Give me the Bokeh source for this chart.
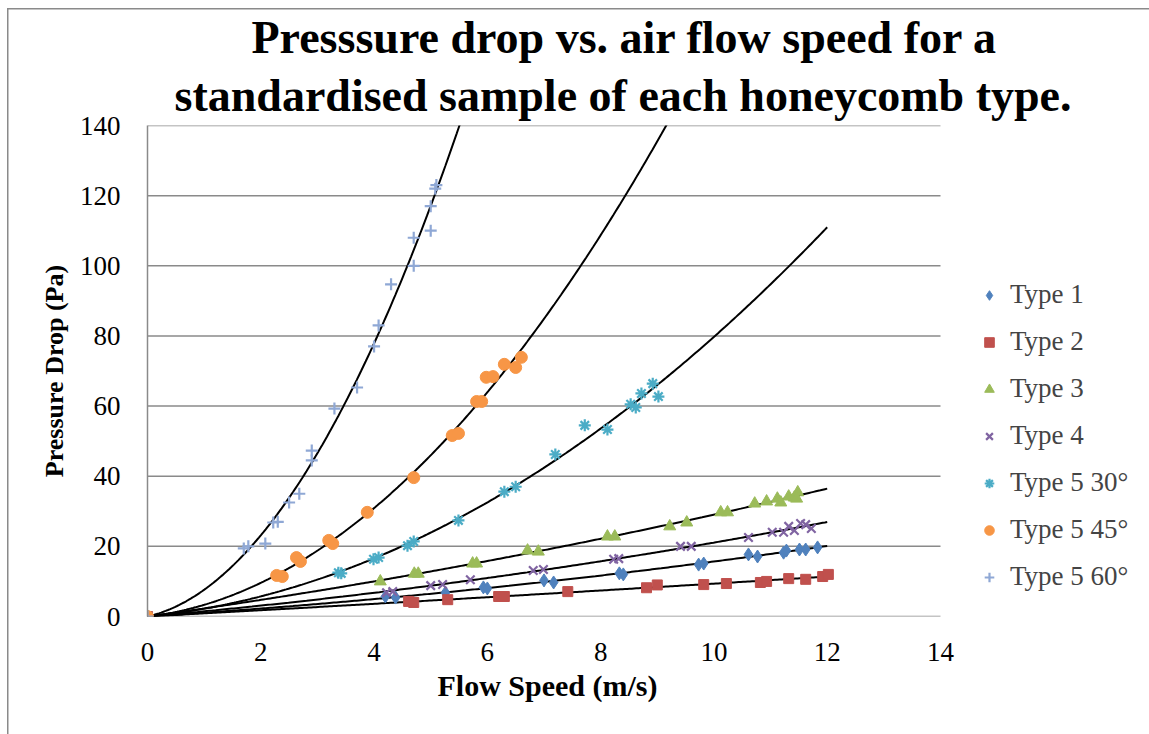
import numpy as np
from bokeh.plotting import figure
from bokeh.models import Range1d, Legend, LegendItem, FixedTicker, Title
from bokeh.embed import file_html
from bokeh.resources import INLINE

# ---------------- data ----------------
x_ticks = [0, 2, 4, 6, 8, 10, 12, 14]
y_ticks = [0, 20, 40, 60, 80, 100, 120, 140]

t1_x = [0, 4.20, 4.38, 5.26, 5.93, 6.00, 7.00, 7.17, 8.33, 8.40, 9.73, 9.82, 10.61, 10.77, 11.23, 11.28, 11.51, 11.62, 11.83]
t1_y = [0, 5.7, 5.4, 6.8, 8.3, 8.0, 10.3, 9.7, 12.3, 12.0, 14.8, 15.1, 17.7, 17.1, 18.2, 18.8, 19.1, 19.1, 19.7]

t2_x = [0, 4.61, 4.70, 5.30, 6.20, 6.30, 7.42, 8.81, 9.00, 9.82, 10.22, 10.82, 10.93, 11.32, 11.62, 11.92, 12.02]
t2_y = [0, 4.3, 4.0, 4.8, 5.7, 5.7, 7.1, 8.2, 9.0, 9.1, 9.4, 9.7, 10.0, 10.8, 10.6, 11.4, 12.0]

t3_x = [0, 4.11, 4.71, 4.78, 5.74, 5.81, 6.71, 6.90, 8.12, 8.25, 9.22, 9.52, 10.12, 10.24, 10.72, 10.93, 11.12, 11.18, 11.32, 11.42, 11.48, 11.46]
t3_y = [0, 10.0, 12.2, 12.2, 15.1, 15.1, 18.8, 18.5, 22.8, 22.8, 25.7, 26.8, 29.7, 29.7, 32.2, 32.8, 33.6, 32.5, 34.2, 33.9, 35.4, 33.6]

t4_x = [0, 4.22, 4.33, 5.00, 5.21, 5.70, 6.81, 6.99, 8.23, 8.32, 9.41, 9.60, 10.61, 11.03, 11.23, 11.32, 11.42, 11.53, 11.62, 11.72]
t4_y = [0, 6.8, 7.1, 8.8, 9.1, 10.5, 13.1, 13.4, 16.3, 16.5, 20.0, 20.0, 22.5, 24.0, 24.0, 25.7, 24.5, 26.5, 26.2, 25.1]

t530_x = [0, 3.37, 3.42, 3.99, 4.08, 4.59, 4.70, 5.49, 6.30, 6.50, 7.20, 7.72, 8.12, 8.53, 8.62, 8.72, 8.92, 9.02]
t530_y = [0, 12.5, 12.3, 16.3, 16.8, 20.2, 21.4, 27.4, 35.6, 37.0, 46.2, 54.5, 53.3, 60.5, 59.6, 63.6, 66.4, 62.7]

t545_x = [0, 2.28, 2.38, 2.63, 2.70, 3.20, 3.27, 3.88, 4.70, 5.38, 5.49, 5.81, 5.90, 5.98, 6.10, 6.30, 6.50, 6.60]
t545_y = [0, 11.7, 11.4, 16.8, 15.7, 21.7, 20.8, 29.7, 39.6, 51.6, 52.2, 61.3, 61.3, 68.2, 68.4, 71.9, 71.0, 73.9]

t560_x = [0, 1.70, 1.78, 2.08, 2.22, 2.30, 2.50, 2.68, 2.90, 2.90, 3.30, 3.70, 4.00, 4.08, 4.30, 4.70, 4.70, 5.00, 5.00, 5.08, 5.10]
t560_y = [0, 19.4, 20.0, 20.8, 26.8, 27.0, 32.5, 35.0, 47.3, 44.5, 59.3, 65.3, 77.0, 83.0, 94.7, 100.0, 108.0, 110.0, 117.0, 122.0, 123.0]

labels = ["Type 1", "Type 2", "Type 3", "Type 4", "Type 5 30°", "Type 5 45°", "Type 5 60°"]
colors = ["#4F81BD", "#C0504D", "#9BBB59", "#8064A2", "#4BACC6", "#F79646", "#8FA8D5"]
markers = ["diamond", "square", "triangle", "x", "asterisk", "circle", "cross"]
sizes = [13, 10, 12, 12, 12, 12, 12]
series = [(t1_x, t1_y), (t2_x, t2_y), (t3_x, t3_y), (t4_x, t4_y),
          (t530_x, t530_y), (t545_x, t545_y), (t560_x, t560_y)]
title_lines = ["Presssure drop vs. air flow speed for a",
               "standardised sample of each honeycomb type."]
x_title = "Flow Speed (m/s)"
y_title = "Pressure Drop (Pa)"
trend_end = 12.0

FONT = "Liberation Serif"
W, H = 1149, 734
BL, BR, BT, BB = 147, 0, 125, 118
AXIS_PX = 793                      # on-screen length of the 0..14 axis
FRAME_PX = W - BL - BR             # frame is wider; legend lives at its right
x_max = x_ticks[-1]
x_end = x_max * FRAME_PX / AXIS_PX
y_max = y_ticks[-1]

p = figure(width=W, height=H, x_range=Range1d(0, x_end), y_range=Range1d(0, y_max),
           output_backend="svg", toolbar_location=None, title=None,
           min_border_left=BL, min_border_right=BR, min_border_top=BT, min_border_bottom=BB)
p.border_fill_color = None
p.background_fill_color = "white"
p.outline_line_color = None
# outer chart-area border (top and left edges visible in the reference)
p.styles = {"box-shadow": "inset 7px 8px 0 0 white, inset 8.5px 9.5px 0 0 #8a8a8a"}

# title: two single lines (bottom line added first, it sits closest to the plot)
for txt, off, sb in ((title_lines[1], 27, 10), (title_lines[0], 104, 0)):
    p.add_layout(Title(text=txt, text_font=FONT, text_font_style="bold",
                       text_font_size="46px", align="left", offset=off,
                       standoff=sb, text_color="black"), "above")

# axes
for ax in (p.xaxis[0], p.yaxis[0]):
    ax.axis_line_color = "#8a8a8a"
    ax.axis_line_width = 1.5
    ax.major_tick_line_color = None
    ax.minor_tick_line_color = None
    ax.major_label_text_font = FONT
    ax.major_label_text_font_size = "27px"
    ax.major_label_text_color = "black"
    ax.axis_label_text_font = FONT
    ax.axis_label_text_font_style = "bold"
    ax.axis_label_text_color = "black"
p.xaxis.axis_line_color = None     # drawn below only over 0..14
p.xaxis.ticker = FixedTicker(ticks=x_ticks)
p.yaxis.ticker = FixedTicker(ticks=y_ticks)
p.yaxis.axis_label = y_title
p.yaxis.axis_label_text_font_size = "26px"
p.xaxis.major_label_standoff = 20
p.yaxis.major_label_standoff = 21
p.yaxis.axis_label_standoff = 8

# x-axis title, centred under the 0..14 part of the frame
p.add_layout(Title(text=x_title, text_font=FONT, text_font_style="bold",
                   text_font_size="30px", align="left", offset=290, standoff=6,
                   text_color="black"), "below")

p.xgrid.grid_line_color = None
p.ygrid.grid_line_color = None
# horizontal gridlines (and x-axis line) spanning only the 0..14 axis
p.segment(x0=[0] * len(y_ticks), x1=[x_max] * len(y_ticks), y0=y_ticks, y1=y_ticks,
          line_color="#8a8a8a", line_width=1.5)

# trend lines: least-squares y = a x^2 + b x (through origin)
for (xs, ys) in series:
    xa = np.asarray(xs, dtype=float)
    ya = np.asarray(ys, dtype=float)
    A = np.column_stack([xa ** 2, xa])
    (a, b), *_ = np.linalg.lstsq(A, ya, rcond=None)
    xf = np.linspace(0, trend_end, 300)
    p.line(xf, a * xf ** 2 + b * xf, line_color="black", line_width=2)

items = []
for (xs, ys), lab, col, mk, sz in zip(series, labels, colors, markers, sizes):
    if mk in ("x", "asterisk", "cross"):
        r = p.scatter(xs, ys, marker=mk, size=sz, line_color=col, line_width=2.2)
    else:
        r = p.scatter(xs, ys, marker=mk, size=sz, fill_color=col, line_color=col)
    items.append(LegendItem(label=lab, renderers=[r]))

legend = Legend(items=items, location=(AXIS_PX + 37, 24),
                label_text_font=FONT, label_text_font_size="27px",
                glyph_width=24, glyph_height=26, label_height=30, spacing=16,
                padding=0, margin=0, border_line_color=None,
                background_fill_alpha=0, label_standoff=9)
p.add_layout(legend, "center")

open("out.html", "w").write(file_html(p, INLINE))
